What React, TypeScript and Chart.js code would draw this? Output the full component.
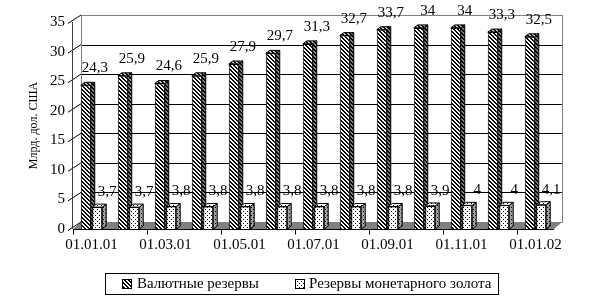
import React, { useEffect, useRef } from "react";
import { Chart, registerables } from "chart.js";

Chart.register(...registerables);

const categories = [
  "01.01.01", "01.02.01", "01.03.01", "01.04.01", "01.05.01", "01.06.01", "01.07.01",
  "01.08.01", "01.09.01", "01.10.01", "01.11.01", "01.12.01", "01.01.02",
];
const currencyReserves = [24.3, 25.9, 24.6, 25.9, 27.9, 29.7, 31.3, 32.7, 33.7, 34, 34, 33.3, 32.5];
const goldReserves = [3.7, 3.7, 3.8, 3.8, 3.8, 3.8, 3.8, 3.8, 3.8, 3.9, 4, 4, 4.1];
const seriesNames = ["Валютные резервы", "Резервы монетарного золота"];
const yTickValues = [0, 5, 10, 15, 20, 25, 30, 35];
const yTitle = "Млрд. дол. США";

const FONT = '"Liberation Serif", "Times New Roman", serif';
const WALL_DX = 8;
const WALL_DY = 7;
const BAR_DX = 4;
const BAR_DY = 3;

function makePattern(
  ctx: CanvasRenderingContext2D,
  bg: string,
  fg: string,
  size: number,
  on: (x: number, y: number) => boolean
) {
  const c = document.createElement("canvas");
  c.width = size;
  c.height = size;
  const g = c.getContext("2d")!;
  g.fillStyle = bg;
  g.fillRect(0, 0, size, size);
  g.fillStyle = fg;
  for (let y = 0; y < size; y++) {
    for (let x = 0; x < size; x++) {
      if (on(x, y)) g.fillRect(x, y, 1, 1);
    }
  }
  return ctx.createPattern(c, "repeat")!;
}

const hatchOn = (x: number, y: number) => (((x - y) % 4) + 4) % 4 < 2;
const dotOn = (x: number, y: number) => (x === 1 && y === 1) || (x === 3 && y === 3);

function fmt(v: number) {
  return String(v).replace(".", ",");
}

export default function App() {
  const ref = useRef<HTMLCanvasElement | null>(null);

  useEffect(() => {
    document.body.style.margin = "0";
    const canvas = ref.current!;
    const ctx = canvas.getContext("2d")!;

    const hatchFront = makePattern(ctx, "#ffffff", "#000000", 4, hatchOn);
    const hatchSide = makePattern(ctx, "#808080", "#000000", 4, hatchOn);
    const hatchTop = makePattern(ctx, "#c0c0c0", "#000000", 4, hatchOn);
    const dotFront = makePattern(ctx, "#ffffff", "#000000", 4, dotOn);
    const dotSide = makePattern(ctx, "#a0a0a0", "#000000", 4, dotOn);
    const dotTop = makePattern(ctx, "#ffffff", "#000000", 4, dotOn);

    const sides = [
      { side: hatchSide, top: hatchTop },
      { side: dotSide, top: dotTop },
    ];

    const drawBar3D = (c: CanvasRenderingContext2D, el: any, ds: number) => {
      const half = el.width / 2;
      const l = el.x - half;
      const r = el.x + half;
      const t = el.y;
      const b = el.base;
      c.save();
      c.lineWidth = 1;
      c.strokeStyle = "#000";
      c.beginPath();
      c.moveTo(r, t);
      c.lineTo(r + BAR_DX, t - BAR_DY);
      c.lineTo(r + BAR_DX, b - BAR_DY);
      c.lineTo(r, b);
      c.closePath();
      c.fillStyle = sides[ds].side;
      c.fill();
      c.stroke();
      c.beginPath();
      c.moveTo(l, t);
      c.lineTo(l + BAR_DX, t - BAR_DY);
      c.lineTo(r + BAR_DX, t - BAR_DY);
      c.lineTo(r, t);
      c.closePath();
      c.fillStyle = sides[ds].top;
      c.fill();
      c.stroke();
      c.restore();
    };

    const scenePlugin = {
      id: "scene3d",
      beforeDatasetsDraw(chart: any) {
        const c: CanvasRenderingContext2D = chart.ctx;
        const { left, right, top, bottom } = chart.chartArea;
        const ys = chart.scales.y;
        c.save();
        c.fillStyle = "#ffffff";
        c.fillRect(left + WALL_DX, top - WALL_DY, right - left, bottom - top);
        c.strokeStyle = "#000";
        c.lineWidth = 1;
        yTickValues.forEach((v) => {
          if (v === 0 || v === 35) return;
          const y = Math.round(ys.getPixelForValue(v) - WALL_DY) + 0.5;
          c.beginPath();
          c.moveTo(left + WALL_DX, y);
          c.lineTo(right + WALL_DX, y);
          c.stroke();
        });
        c.strokeStyle = "#808080";
        c.strokeRect(
          Math.round(left + WALL_DX) + 0.5,
          Math.round(top - WALL_DY) + 0.5,
          right - left,
          bottom - top
        );
        c.fillStyle = "#808080";
        c.beginPath();
        c.moveTo(left, bottom);
        c.lineTo(right, bottom);
        c.lineTo(right + WALL_DX, bottom - WALL_DY);
        c.lineTo(left + WALL_DX, bottom - WALL_DY);
        c.closePath();
        c.fill();
        c.strokeStyle = "#000";
        yTickValues.forEach((v) => {
          const y = ys.getPixelForValue(v);
          c.beginPath();
          c.moveTo(left - 5, y + 1.5);
          c.lineTo(left + WALL_DX, y - WALL_DY);
          c.stroke();
        });
        c.strokeStyle = "#404040";
        c.beginPath();
        c.moveTo(Math.round(left) - 0.5, top);
        c.lineTo(Math.round(left) - 0.5, bottom);
        c.stroke();
        c.strokeStyle = "#000";
        const by = Math.round(bottom) + 0.5;
        c.beginPath();
        c.moveTo(left, by);
        c.lineTo(right, by);
        c.stroke();
        const catW = (right - left) / categories.length;
        for (let i = 0; i < categories.length; i += 2) {
          const x = Math.round(left + i * catW) + 0.5;
          c.beginPath();
          c.moveTo(x, by);
          c.lineTo(x, by + 5);
          c.stroke();
        }
        c.fillStyle = "#000";
        c.font = `12px ${FONT}`;
        c.textAlign = "center";
        c.textBaseline = "middle";
        c.translate(34, (top + bottom) / 2);
        c.rotate(-Math.PI / 2);
        c.fillText(yTitle, 0, 0);
        c.restore();
      },
      afterDatasetsDraw(chart: any) {
        const c: CanvasRenderingContext2D = chart.ctx;
        const m0 = chart.getDatasetMeta(0);
        const m1 = chart.getDatasetMeta(1);
        m0.data.forEach((el: any) => drawBar3D(c, el, 0));
        m1.data.forEach((el: any) => {
          el.draw(c);
          drawBar3D(c, el, 1);
        });
        c.save();
        c.fillStyle = "#000";
        c.font = `15px ${FONT}`;
        c.textAlign = "center";
        c.textBaseline = "middle";
        m0.data.forEach((el: any, i: number) => {
          c.fillText(fmt(currencyReserves[i]), el.x + 9, Math.max(el.y - 17, 10));
        });
        m1.data.forEach((el: any, i: number) => {
          c.fillText(fmt(goldReserves[i]), el.x + 10, el.y - 15);
        });
        c.restore();
      },
      afterDraw(chart: any) {
        const c: CanvasRenderingContext2D = chart.ctx;
        c.save();
        c.strokeStyle = "#000";
        c.lineWidth = 1;
        c.strokeRect(105.5, 273.5, 393, 21);
        c.font = `15px ${FONT}`;
        c.textBaseline = "middle";
        c.textAlign = "left";
        const ly = 284;
        c.fillStyle = hatchFront;
        c.fillRect(122, ly - 5, 10, 10);
        c.strokeRect(122.5, ly - 4.5, 9, 9);
        c.fillStyle = "#000";
        c.fillText(seriesNames[0], 137, ly);
        c.fillStyle = dotFront;
        c.fillRect(295, ly - 5, 10, 10);
        c.strokeRect(295.5, ly - 4.5, 9, 9);
        c.fillStyle = "#000";
        c.fillText(seriesNames[1], 309, ly);
        c.restore();
      },
    };

    const chart = new Chart(canvas, {
      type: "bar",
      data: {
        labels: categories,
        datasets: [
          {
            label: seriesNames[0],
            data: currencyReserves,
            backgroundColor: hatchFront as any,
            borderColor: "#000",
            borderWidth: 1,
            categoryPercentage: 0.62,
            barPercentage: 0.87,
          },
          {
            label: seriesNames[1],
            data: goldReserves,
            backgroundColor: dotFront as any,
            borderColor: "#000",
            borderWidth: 1,
            categoryPercentage: 0.62,
            barPercentage: 0.87,
          },
        ],
      },
      options: {
        responsive: false,
        animation: false,
        devicePixelRatio: 1,
        layout: { padding: { top: 22, right: 35, left: 0, bottom: 0 } },
        plugins: { legend: { display: false }, tooltip: { enabled: false } },
        scales: {
          x: {
            grid: { display: false, drawTicks: false },
            border: { display: false },
            ticks: {
              autoSkip: false,
              maxRotation: 0,
              color: "#000",
              font: { family: FONT, size: 15 },
              padding: 7,
              callback: (_v: any, i: number) => (i % 2 === 0 ? categories[i] : ""),
            },
            afterFit: (s: any) => {
              s.height = 67;
            },
          },
          y: {
            min: 0,
            max: 35,
            ticks: {
              stepSize: 5,
              color: "#000",
              font: { family: FONT, size: 15 },
              padding: 8,
            },
            grid: { display: false, drawTicks: false },
            border: { display: false },
            afterFit: (s: any) => {
              s.width = 73;
            },
          },
        },
      },
      plugins: [scenePlugin],
    });

    return () => chart.destroy();
  }, []);

  return (
    <div style={{ width: 589, height: 296 }}>
      <canvas ref={ref} width={589} height={296} />
    </div>
  );
}
